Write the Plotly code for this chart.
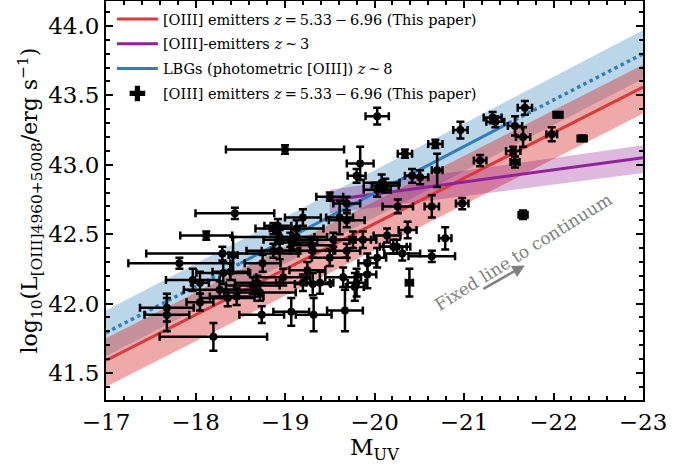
import plotly.graph_objects as go

# ---------------- data ----------------
# [OIII] emitters: M_UV, log L, errors
M_uv = [-20.03, -21.68, -21.32, -21.35, -22.05, -22.32, -20.96, -21.57, -21.66, -21.98,
        -21.55, -21.57, -21.18, -21.66, -20.68, -20.34, -20.42, -20.51, -20.70, -20.12,
        -20.26, -20.64, -20.98, -20.79, -20.37, -20.14, -20.64, -20.39, -20.08, -20.03,
        -19.84, -19.80, -19.00, -18.44, -18.12, -17.82, -19.50, -19.69, -19.20, -18.92,
        -18.87, -19.13, -19.61, -19.69, -20.21, -18.30, -18.94, -18.42, -17.68, -17.68,
        -18.20, -18.74, -19.07, -19.32, -19.67, -17.97, -18.05, -18.05, -18.31, -18.39,
        -18.27, -18.36, -18.72, -18.64, -18.98, -19.20, -19.39, -19.65, -19.80, -19.92,
        -20.03, -20.25, -18.94, -19.09, -19.31, -19.50, -19.54, -19.76, -18.46, -18.75,
        -19.87, -20.31, -19.78, -19.25, -19.31, -18.69, -19.92, -19.13, -19.06, -18.87,
        -19.30, -19.69]
logL = [43.35, 43.41, 43.34, 43.31, 43.36, 43.19, 43.25, 43.28, 43.20, 43.22,
        43.10, 43.02, 43.03, 42.64, 43.15, 43.08, 42.92, 42.91, 42.96, 42.85,
        42.70, 42.70, 42.72, 42.47, 42.53, 42.49, 42.34, 42.15, 42.87, 42.82,
        43.01, 42.92, 43.11, 42.65, 42.49, 42.29, 42.77, 42.72, 42.62, 42.56,
        42.54, 42.54, 42.62, 42.60, 42.41, 42.36, 42.48, 42.35, 41.97, 41.92,
        41.76, 41.92, 41.94, 41.92, 41.95, 42.17, 42.15, 42.01, 42.22, 42.23,
        42.10, 42.04, 42.08, 42.13, 42.19, 42.15, 42.15, 42.19, 42.15, 42.21,
        42.33, 42.41, 42.38, 42.44, 42.38, 42.33, 42.46, 42.46, 42.05, 42.29,
        42.46, 42.36, 42.12, 42.24, 42.14, 42.15, 42.29, 42.48, 42.46, 42.38,
        42.42, 42.38]
M_err = [0.13, 0.08, 0.10, 0.10, 0.05, 0.05, 0.08, 0.08, 0.08, 0.06,
         0.08, 0.05, 0.07, 0.05, 0.08, 0.08, 0.08, 0.09, 0.06, 0.15,
         0.17, 0.08, 0.07, 0.07, 0.10, 0.15, 0.26, 0.04, 0.20, 0.15,
         0.15, 0.10, 0.66, 0.44, 0.29, 0.57, 0.15, 0.15, 0.20, 0.15,
         0.20, 0.30, 0.15, 0.20, 0.15, 0.85, 0.53, 0.05, 0.30, 0.25,
         0.60, 0.25, 0.20, 0.20, 0.20, 0.30, 0.10, 0.15, 0.30, 0.20,
         0.40, 0.30, 0.40, 0.30, 0.30, 0.30, 0.15, 0.20, 0.10, 0.10,
         0.10, 0.15, 0.20, 0.20, 0.25, 0.20, 0.25, 0.20, 0.30, 0.20,
         0.15, 0.20, 0.10, 0.20, 0.20, 0.25, 0.10, 0.20, 0.30, 0.30,
         0.25, 0.15]
L_err = [0.06, 0.05, 0.04, 0.04, 0.02, 0.02, 0.06, 0.07, 0.07, 0.05,
         0.03, 0.04, 0.04, 0.03, 0.03, 0.03, 0.05, 0.05, 0.12, 0.05,
         0.05, 0.08, 0.04, 0.08, 0.06, 0.05, 0.04, 0.10, 0.06, 0.05,
         0.12, 0.05, 0.03, 0.04, 0.03, 0.04, 0.03, 0.05, 0.06, 0.05,
         0.04, 0.06, 0.12, 0.05, 0.05, 0.05, 0.05, 0.13, 0.10, 0.12,
         0.10, 0.06, 0.10, 0.12, 0.15, 0.08, 0.08, 0.06, 0.08, 0.06,
         0.06, 0.06, 0.06, 0.06, 0.06, 0.06, 0.08, 0.07, 0.10, 0.10,
         0.07, 0.05, 0.06, 0.05, 0.05, 0.06, 0.05, 0.06, 0.06, 0.06,
         0.06, 0.05, 0.10, 0.06, 0.08, 0.05, 0.07, 0.05, 0.05, 0.05,
         0.05, 0.05]

# This paper fit (red)
red_M = [-17.0, -23.0]
red_L = [41.59, 43.56]
red_up = [41.75, 43.72]
red_lo = [41.40, 43.37]

# z~3 [OIII] emitters (purple)
pur_M = [-19.5, -23.0]
pur_L = [42.745, 43.05]
pur_up = [42.82, 43.14]
pur_lo = [42.65, 42.94]

# z~8 LBGs (blue)
blue_M = [-17.0, -23.0]
blue_up = [41.95, 43.97]
blue_lo = [41.62, 43.62]
blue_solid_M = [-18.5, -21.5]
blue_solid_L = [42.29, 43.30]
blue_dot1_M = [-17.0, -18.5]
blue_dot1_L = [41.79, 42.29]
blue_dot2_M = [-21.5, -23.0]
blue_dot2_L = [43.30, 43.80]

FONT = "DejaVu Serif"
RED = "#d93a3a"
PURPLE = "#8e2497"
BLUE = "#2e7fbf"
LEG_DATA = "[OIII] emitters <i>z</i>\u2009=\u20095.33\u2009\u2212\u20096.96 (This paper)"

fig = go.Figure()

def band(xs, lo, up, color):
    fig.add_trace(go.Scatter(x=xs, y=lo, mode="lines", line=dict(width=0),
                             showlegend=False, hoverinfo="skip"))
    fig.add_trace(go.Scatter(x=xs, y=up, mode="lines", line=dict(width=0),
                             fill="tonexty", fillcolor=color,
                             showlegend=False, hoverinfo="skip"))

band(blue_M, blue_lo, blue_up, "rgba(31,119,180,0.30)")
band(red_M, red_lo, red_up, "rgba(214,39,40,0.40)")
band(pur_M, pur_lo, pur_up, "rgba(128,0,128,0.27)")

fig.add_trace(go.Scatter(x=red_M, y=red_L, mode="lines", line=dict(color=RED, width=3),
                         name=LEG_DATA, legendgroup="a"))
fig.add_trace(go.Scatter(x=pur_M, y=pur_L, mode="lines", line=dict(color=PURPLE, width=3),
                         name="[OIII]-emitters <i>z</i>\u2009~\u20093", legendgroup="b"))
fig.add_trace(go.Scatter(x=blue_solid_M, y=blue_solid_L, mode="lines",
                         line=dict(color=BLUE, width=3),
                         name="LBGs (photometric [OIII]) <i>z</i>\u2009~\u20098", legendgroup="c"))
for xs, ys in [(blue_dot1_M, blue_dot1_L), (blue_dot2_M, blue_dot2_L)]:
    fig.add_trace(go.Scatter(x=xs, y=ys, mode="lines",
                             line=dict(color=BLUE, width=3.5, dash="dot"),
                             showlegend=False, hoverinfo="skip"))

fig.add_trace(go.Scatter(
    x=M_uv, y=logL, mode="markers",
    marker=dict(color="black", size=8, symbol="circle"),
    error_x=dict(type="data", array=M_err, color="black", thickness=2.5, width=4),
    error_y=dict(type="data", array=L_err, color="black", thickness=2.5, width=4),
    name=LEG_DATA, showlegend=False, legendgroup="d"))
# legend handle for the data points (errorbar-style cross)
fig.add_trace(go.Scatter(x=[None], y=[None], mode="markers",
                         marker=dict(color="black", size=13, symbol="cross"),
                         name=LEG_DATA, legendgroup="d"))

# annotation
fig.add_annotation(x=-21.66, y=42.37, xref="x", yref="y", text="Fixed line to continuum",
                   showarrow=False, textangle=-32,
                   font=dict(family=FONT, size=17, color="#808080"))
fig.add_annotation(x=-21.68, y=42.275, ax=-21.20, ay=42.10, xref="x", yref="y",
                   axref="x", ayref="y", text="", showarrow=True,
                   arrowhead=2, arrowsize=1, arrowwidth=2.5, arrowcolor="#808080")
# x-axis title
fig.add_annotation(x=0.5, y=-0.122, xref="paper", yref="paper", text="M<sub>UV</sub>",
                   showarrow=False, yanchor="middle", xanchor="center",
                   font=dict(family=FONT, size=23, color="black"))

axis_common = dict(showline=True, linecolor="black", linewidth=2, mirror="allticks",
                   ticks="inside", ticklen=7, tickwidth=2, tickcolor="black",
                   showgrid=False, zeroline=False, automargin=False,
                   tickfont=dict(family=FONT, size=23, color="black"))

fig.update_xaxes(range=[-17, -23], dtick=1, tickformat=".0f",
                 minor=dict(ticks="inside", ticklen=4, tickwidth=1.5, dtick=0.2, tickcolor="black"),
                 **axis_common)
fig.update_yaxes(range=[41.305, 44.18], tick0=41.5, dtick=0.5, tickformat=".1f",
                 minor=dict(ticks="inside", ticklen=4, tickwidth=1.5, dtick=0.1, tickcolor="black"),
                 title=dict(text="log<sub>10</sub>(L<sub>[OIII]4960+5008</sub>/erg s<sup>\u22121</sup>)",
                            font=dict(family=FONT, size=22, color="black"), standoff=4),
                 **axis_common)

fig.update_layout(
    width=694, height=466,
    margin=dict(l=106, r=51, t=1, b=66),
    plot_bgcolor="white", paper_bgcolor="white",
    font=dict(family=FONT, color="black"),
    legend=dict(x=0.011, y=0.995, xanchor="left", yanchor="top",
                bgcolor="rgba(255,255,255,0)", borderwidth=0,
                font=dict(family=FONT, size=14.5, color="black"),
                tracegroupgap=3, itemwidth=41),
)

fig.write_html("out.html", config={"displayModeBar": False},
               post_script="document.body.style.margin='0';document.body.style.padding='0';")
